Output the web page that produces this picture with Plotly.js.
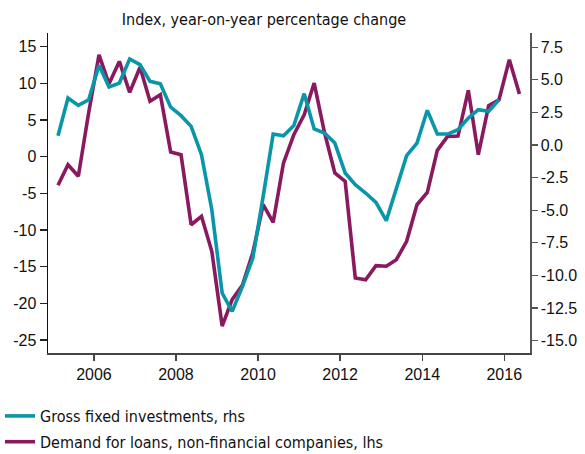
<!DOCTYPE html>
<html>
<head>
<meta charset="utf-8">
<script src="https://cdn.plot.ly/plotly-3.0.1.min.js"></script>
<style>
  html, body { margin: 0; padding: 0; background: #ffffff; }
  #chart { width: 585px; height: 454px; }
</style>
</head>
<body>
<div id="chart"></div>
<script>
// Quarterly observations (plotted at mid-quarter)
const quarters = [
  "2005Q1","2005Q2","2005Q3","2005Q4","2006Q1","2006Q2","2006Q3","2006Q4",
  "2007Q1","2007Q2","2007Q3","2007Q4","2008Q1","2008Q2","2008Q3","2008Q4",
  "2009Q1","2009Q2","2009Q3","2009Q4","2010Q1","2010Q2","2010Q3","2010Q4",
  "2011Q1","2011Q2","2011Q3","2011Q4","2012Q1","2012Q2","2012Q3","2012Q4",
  "2013Q1","2013Q2","2013Q3","2013Q4","2014Q1","2014Q2","2014Q3","2014Q4",
  "2015Q1","2015Q2","2015Q3","2015Q4","2016Q1","2016Q2"
];

// Gross fixed investments, y/y % (right axis), 2005Q1–2015Q4
const grossFixedInvestments = [
  0.71, 3.60, 3.04, 3.47, 6.11, 4.45, 4.75, 6.60,
  6.16, 4.88, 4.70, 2.90, 2.25, 1.43, -0.74, -4.96,
  -11.35, -12.76, -10.84, -8.67, -3.94, 0.84, 0.71, 1.50,
  3.94, 1.23, 0.92, 0.15, -2.15, -3.04, -3.68, -4.40,
  -5.80, -3.43, -0.82, 0.15, 2.66, 0.84, 0.84, 1.17,
  2.07, 2.71, 2.58, 3.47
];

// Demand for loans, non-financial companies (left axis), 2005Q1–2016Q2
const demandForLoans = [
  -3.90, -1.09, -2.67, 6.00, 13.90, 9.96, 13.00, 8.78,
  12.20, 7.56, 8.46, 0.65, 0.27, -9.28, -8.13, -12.90,
  -23.10, -19.50, -17.50, -13.10, -6.55, -8.95, -0.86, 3.00,
  5.73, 10.05, 3.30, -2.22, -3.36, -16.55, -16.78, -14.87,
  -14.95, -14.05, -11.54, -6.55, -4.86, 0.87, 2.78, 2.82,
  9.06, 0.27, 6.96, 7.78, 13.23, 8.55
];

const leftTicks = [-25, -20, -15, -10, -5, 0, 5, 10, 15];
const rightTicks = [-15, -12.5, -10, -7.5, -5, -2.5, 0, 2.5, 5, 7.5];
const yearTicks = ["2006", "2008", "2010", "2012", "2014", "2016"];

const labels = {
  title: "Index, year-on-year percentage change",
  gfi: "Gross fixed investments, rhs",
  loans: "Demand for loans, non-financial companies, lhs"
};

// quarter label -> mid-quarter date string
const midMonth = { "1": "02-15", "2": "05-15", "3": "08-15", "4": "11-15" };
function qDate(q) { return q.slice(0, 4) + "-" + midMonth[q.slice(5)]; }

const xGfi = quarters.slice(0, grossFixedInvestments.length).map(qDate);
const xLoans = quarters.slice(0, demandForLoans.length).map(qDate);

const teal = "#0896a8";
const purple = "#8a1a5f";
const narrow = "DejaVu Sans Condensed, Liberation Sans Narrow, Arial Narrow, sans-serif";
const tickFont = { family: "Liberation Sans, Arial, sans-serif", size: 16, color: "#111" };

const traces = [
  {
    x: xGfi, y: grossFixedInvestments, yaxis: "y2",
    type: "scatter", mode: "lines", name: labels.gfi, legendgroup: "a",
    line: { color: teal, width: 3.6 }
  },
  {
    x: xLoans, y: demandForLoans, yaxis: "y",
    type: "scatter", mode: "lines", name: labels.loans, legendgroup: "b",
    line: { color: purple, width: 3.6 }
  }
];

const layout = {
  width: 585, height: 454,
  margin: { l: 48, r: 55, t: 33, b: 101, autoexpand: false },
  paper_bgcolor: "#ffffff", plot_bgcolor: "#ffffff",
  title: {
    text: labels.title,
    font: { family: narrow, size: 16, color: "#111" },
    xref: "container", x: 264 / 585, xanchor: "center",
    yref: "container", y: 1 - 19 / 454, yanchor: "middle"
  },
  xaxis: {
    type: "date",
    range: ["2004-11-18", "2016-08-17"],
    tickvals: yearTicks.map(y => y + "-01-01"),
    ticktext: yearTicks,
    showgrid: false, zeroline: false,
    showline: true, linecolor: "#444", linewidth: 1.5,
    ticks: "outside", ticklen: 6, tickwidth: 1.3, tickcolor: "#444",
    tickfont: tickFont, tickangle: 0, automargin: false
  },
  yaxis: {
    range: [-26.78, 16.88],
    tickvals: leftTicks,
    ticktext: leftTicks.map(v => String(v)),
    showgrid: false, zeroline: false,
    showline: true, linecolor: "#111", linewidth: 1.5,
    ticks: "outside", ticklen: 7, tickwidth: 1.3, tickcolor: "#222",
    tickfont: tickFont, automargin: false
  },
  yaxis2: {
    overlaying: "y", side: "right",
    range: [-15.95, 8.59],
    tickvals: rightTicks,
    ticktext: rightTicks.map(v => v.toFixed(1)),
    showgrid: false, zeroline: false,
    showline: true, linecolor: "#555", linewidth: 1.5,
    ticks: "outside", ticklen: 6, tickwidth: 1.3, tickcolor: "#555",
    tickfont: tickFont, automargin: false
  },
  showlegend: true,
  legend: {
    orientation: "v",
    xref: "container", x: 0, xanchor: "left",
    yref: "container", y: 1 - 399 / 454, yanchor: "top",
    font: { family: narrow, size: 16, color: "#111" },
    tracegroupgap: 2,
    bgcolor: "rgba(0,0,0,0)"
  }
};

Plotly.newPlot("chart", traces, layout, { displayModeBar: false, staticPlot: true });
</script>
</body>
</html>
